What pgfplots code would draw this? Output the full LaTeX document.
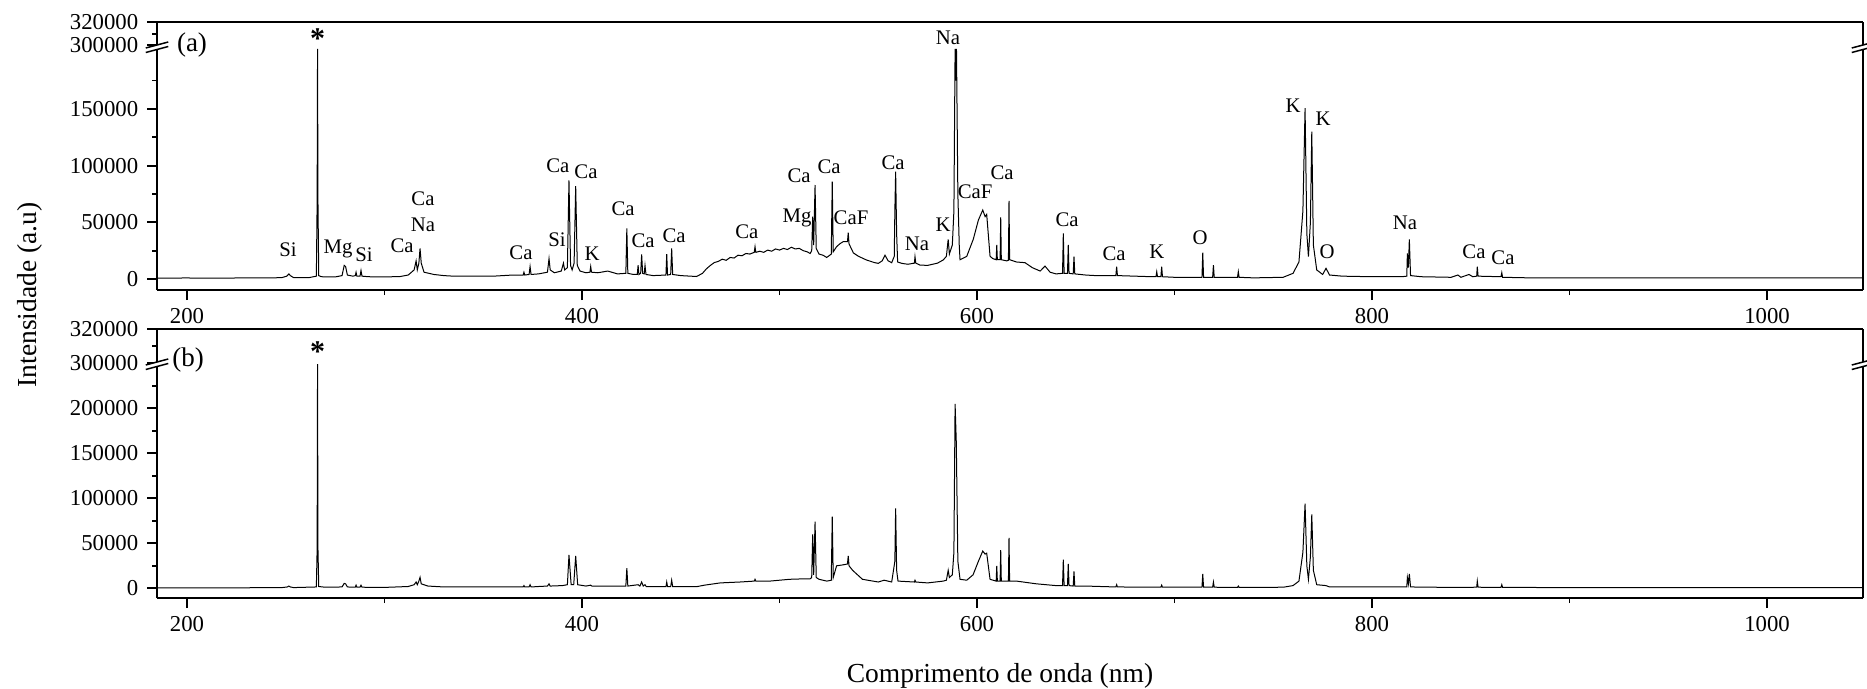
\documentclass[border=0pt]{standalone}
\usepackage{fontspec}
\setmainfont{Liberation Serif}
\usepackage{pgfplots}
\pgfplotsset{compat=1.18}
\usepackage{pgfplotstable}

\pgfplotstableread{
x y
185 800
200 900
215 700
230 1000
240 900
248 1200
250.5 2500
251.6 4500
252.3 3000
254 1200
262 1300
265.5 2500
265.9 70000
266.1 203000
266.3 70000
266.7 3000
268 2000
275 1800
278.5 3000
279.6 12000
280.3 11000
281.2 3500
284 2500
285.2 3000
285.6 6000
286.0 2500
287.6 2500
288.1 7500
288.6 2500
292 2000
300 1800
308 2200
312 3500
315 8000
316.0 16000
316.6 8000
317.4 14000
318.0 27000
318.6 14000
320 6000
325 4000
330 3000
335 2500
345 2500
355 2500
365 3500
370.2 3500
370.6 6000
371.0 3500
373.2 4000
373.7 11000
374.2 4000
378 4500
382.5 6000
383.3 18000
383.9 8000
386 5500
389.5 7000
390.6 14000
391.2 8000
392.6 10000
393.4 87000
394.2 12000
395.0 8000
396.0 14000
396.8 82000
397.6 12000
399 7000
402 5500
404.0 6000
404.4 11000
404.8 6000
408 5500
413 7000
418 4500
422.2 5000
422.7 44700
423.2 5000
426 4000
428.0 4000
428.4 12300
428.8 4000
429.7 5000
430.2 21800
430.7 5000
431.5 4500
431.9 12000
432.4 4000
436 3000
442.5 3500
442.9 22000
443.3 3500
444.9 4000
445.4 27000
445.9 4000
450 3000
455 2500
458 2200
461 5000
463 9000
465 12000
467 14500
469 15500
471 17500
473 16500
475 19000
477 18500
479 21000
481 20500
483 22500
485 22000
487.2 23500
487.6 28500
488.0 23500
490 24500
492 23500
494 25500
496 24500
498 26500
500 25500
502 27000
504 26000
506 28000
508 26500
510 27000
512 25000
514 24000
515.5 22500
516.3 25000
516.8 55000
517.3 30000
518.0 82900
518.6 27000
520 22000
522 21000
523.9 19000
526.2 22000
526.7 85800
527.2 24000
528.9 28500
530.5 31000
532.3 33000
534.4 33000
534.8 40800
535.2 31000
537.4 23000
540 20000
544 16800
548 14500
550 13800
552 16000
553.4 21000
555 16000
556.8 14400
558.1 20000
558.4 60000
558.8 94600
559.3 40000
559.8 15000
561.9 13800
565 13000
568.3 14000
568.6 19700
569.0 14000
571.1 12300
575 12000
580 14000
582.9 16800
584.5 20000
585.4 35000
586.0 22000
587.5 30000
588.3 60000
588.9 203000
589.3 175000
589.6 203000
590.3 75000
591.0 30000
591.4 17000
594.8 20000
598.1 35000
600.7 52000
602.9 60800
604.1 55000
604.9 57000
606.6 20000
608 18000
609.7 17000
610.0 30000
610.3 17000
611.7 17000
612.0 54400
612.3 17000
615 16000
615.9 16500
616.2 68800
616.5 17000
620 15000
624.3 14400
628 10000
632 7000
634.4 11400
637 6000
640 4500
643.3 5000
643.7 40300
644.1 5000
645.8 5000
646.2 30000
646.6 5000
648.7 4500
649.1 19700
649.5 4500
655 3500
660 3000
670.3 3000
670.7 10900
671.1 3000
680 2500
689 2000
690.6 2000
691.0 6400
691.4 2000
693.1 2000
693.5 10900
693.9 2000
700 1500
713.9 1500
714.3 23200
714.7 1500
719.3 1500
719.7 12300
720.1 1500
731.9 1500
732.3 6400
732.7 1500
740 1000
755 1500
760 5000
763 15000
765.0 60000
766.1 150600
767.0 40000
767.8 19700
768.8 50000
769.5 130000
770.3 30000
772 8000
775 4000
776.7 9400
778.5 3500
785 2500
800 2000
815 2000
817.6 2500
817.9 22600
818.4 10000
818.9 35000
819.5 3000
825 2000
840 1500
843.5 3500
845 1500
849.1 4000
851 2000
853.0 2500
853.3 10900
853.7 2500
865.3 2000
865.7 5600
866.1 1500
880 1000
900 1000
950 900
1000 1000
1048.6 900
}\tA

\pgfplotstableread{
x y
185 500
230 600
248 800
250.8 1500
251.6 2500
252.3 1500
254 800
265.5 1500
265.9 45000
266.1 249000
266.3 45000
266.7 2000
270 1200
278.5 1500
279.6 5500
280.3 5000
281.2 1500
285.2 1200
285.6 3500
286.0 1200
287.6 1200
288.1 3500
288.6 1200
300 1000
312 2000
315 4000
316.0 7000
316.6 4000
317.4 8000
318.0 12200
318.6 5000
322 2500
330 1500
360 1500
370.2 1500
370.6 3000
371.0 1500
373.2 1500
373.7 4000
374.2 1500
378 2000
382.5 2500
383.3 5000
383.9 2500
390 3000
392.6 4000
393.4 37000
394.5 4000
395.8 4000
396.8 36000
397.8 4000
402 2500
404.4 3500
405 2500
410 2500
422.2 2500
422.7 22500
423.2 2500
428.4 4000
429.3 2500
430.2 7000
431.0 2500
431.9 4000
432.5 2000
442.5 2000
442.9 7000
443.3 2000
444.9 2000
445.4 9000
445.9 2000
450 2000
458 1800
462 3500
470 6000
480 7000
487.2 8000
487.6 10000
488 8000
495 8000
505 10000
512 10500
515.5 10500
516.3 12000
516.8 60000
517.3 15000
518.0 74000
518.6 12000
520 10000
524 8000
526.2 9000
526.7 79500
527.2 12000
528.9 25000
532 26000
534.4 27000
534.8 36000
535.2 25000
537 20000
542 10000
550 7000
553 9000
556.8 7000
558.4 30000
558.8 88700
559.3 20000
560 8000
568.3 7000
568.6 9000
569 7000
575 6000
582.9 8000
584.5 9000
585.4 20000
586 12000
587.5 15000
588.3 40000
588.9 205000
589.5 163000
590.3 30000
591.4 10000
594.8 9000
598 15000
600.7 30000
602.9 41400
604.1 38000
604.9 39000
606.6 10000
609.7 8000
610.0 25000
610.3 8000
611.7 8000
612.0 42500
612.3 8000
615.9 8000
616.2 56000
616.5 8000
620 8000
630 5000
640 3000
643.3 3000
643.7 31900
644.1 3000
645.8 3000
646.2 27000
646.6 3000
648.7 2500
649.1 18700
649.5 2500
655 2500
670.3 1500
670.7 4000
671.1 1500
693.1 1200
693.5 3500
693.9 1200
700 1200
713.9 1200
714.3 15900
714.7 1200
719.3 1200
719.7 7000
720.1 1200
731.9 1000
732.3 2500
732.7 1000
755 1200
760 3000
763 8000
765.0 40000
766.1 94000
767.0 25000
767.8 10000
768.8 35000
769.5 82000
770.3 20000
772 4000
776.7 3000
778.5 1500
800 1500
817.6 1500
817.9 12000
818.4 5000
818.9 16000
819.5 1500
840 1000
853.0 1200
853.3 8000
853.7 1200
865.3 1000
865.7 4000
866.1 1000
900 800
1048.6 800
}\tB

\pgfplotsset{
  spec/.style={
    scale only axis, width=682.4pt,
    xmin=184.81, xmax=1048.6,
    scaled y ticks=false, scaled x ticks=false,
    axis line style={line width=0.8pt, black},
    tick align=outside, major tick length=4pt, minor tick length=2pt,
    every major tick/.style={black, line width=0.8pt},
    every minor tick/.style={black, line width=0.7pt},
    tick label style={font=\fontsize{9.1}{10}\selectfont},
    clip mode=individual,
    anchor=north west,
  },
  upper/.style={axis x line*=top, axis y line*=box, ytick pos=left, xtick=\empty},
  lower/.style={axis x line*=bottom, axis y line*=box, ytick pos=left,
    xtick={200,400,600,800,1000}, xticklabels={200,400,600,800,1000},
    minor xtick={300,500,700,900}},
}
\tikzset{lab/.style={font=\fontsize{8.3}{9}\selectfont, inner sep=0pt}}

\newcommand{\brk}[2]{%
  \begin{scope}[shift={(#1,#2)}]
    \fill[white] (-4.5pt,-2.2pt) -- (4.5pt,0.2pt) -- (4.5pt,2.0pt) -- (-4.5pt,-0.4pt) -- cycle;
    \draw[line width=0.6pt] (-4.5pt,-2.2pt) -- (4.5pt,0.2pt);
    \draw[line width=0.6pt] (-4.5pt,-0.4pt) -- (4.5pt,2.0pt);
  \end{scope}}

\begin{document}
\begin{tikzpicture}
\path[use as bounding box] (0,0) rectangle (746.8pt,-275.6pt);

% ---- panel (a), upper segment
\begin{axis}[spec, upper, at={(62.8pt,-8.8pt)}, height=10pt,
  ymin=298550, ymax=320000, ytick={300000,320000}, yticklabels={300000,320000},
  minor ytick={310000}]
\node[font=\bfseries\fontsize{12}{12}\selectfont, inner sep=0pt] at (axis cs:266.1,306000) {*};
\end{axis}

% ---- panel (a), lower segment
\begin{axis}[spec, lower, at={(62.8pt,-18.8pt)}, height=97.2pt,
  ymin=-9702, ymax=204624,
  ytick={0,50000,100000,150000}, yticklabels={0,50000,100000,150000},
  minor ytick={25000,75000,125000,175000}]
\addplot[black, line width=0.4pt] table {\tA};
\node[lab] at (axis cs:251.1,25600) {Si};
\node[lab] at (axis cs:276.5,26500) {Mg};
\node[lab] at (axis cs:289.6,21200) {Si};
\node[lab] at (axis cs:308.9,29100) {Ca};
\node[lab] at (axis cs:319.5,70600) {Ca};
\node[lab] at (axis cs:319.5,47600) {Na};
\node[lab] at (axis cs:369.1,22900) {Ca};
\node[lab] at (axis cs:387.3,34400) {Si};
\node[lab] at (axis cs:387.8,99700) {Ca};
\node[lab] at (axis cs:402.0,94400) {Ca};
\node[lab] at (axis cs:405.1,22100) {K};
\node[lab] at (axis cs:420.8,61700) {Ca};
\node[lab] at (axis cs:430.9,33500) {Ca};
\node[lab] at (axis cs:446.6,37900) {Ca};
\node[lab] at (axis cs:483.5,41500) {Ca};
\node[lab] at (axis cs:508.9,53800) {Mg};
\node[lab] at (axis cs:509.9,90800) {Ca};
\node[lab] at (axis cs:525.1,98800) {Ca};
\node[lab] at (axis cs:536.2,53800) {CaF};
\node[lab] at (axis cs:557.5,102300) {Ca};
\node[lab] at (axis cs:569.6,30900) {Na};
\node[lab] at (axis cs:582.8,47600) {K};
\node[lab] at (axis cs:585.3,212600) {Na};
\node[lab] at (axis cs:599.0,76700) {CaF};
\node[lab] at (axis cs:612.7,93500) {Ca};
\node[lab] at (axis cs:645.6,52000) {Ca};
\node[lab] at (axis cs:669.4,22100) {Ca};
\node[lab] at (axis cs:691.1,23800) {K};
\node[lab] at (axis cs:712.9,36200) {O};
\node[lab] at (axis cs:760.0,152600) {K};
\node[lab] at (axis cs:775.2,141100) {K};
\node[lab] at (axis cs:777.2,23800) {O};
\node[lab] at (axis cs:816.7,49400) {Na};
\node[lab] at (axis cs:851.6,23800) {Ca};
\node[lab] at (axis cs:866.3,18500) {Ca};
\end{axis}

% ---- panel (b), upper segment
\begin{axis}[spec, upper, at={(62.8pt,-131.6pt)}, height=14pt,
  ymin=299420, ymax=320000, ytick={300000,320000}, yticklabels={300000,320000},
  minor ytick={310000}]
\node[font=\bfseries\fontsize{12}{12}\selectfont, inner sep=0pt] at (axis cs:266.1,307000) {*};
\end{axis}

% ---- panel (b), lower segment
\begin{axis}[spec, lower, at={(62.8pt,-145.6pt)}, height=93.6pt,
  ymin=-10777, ymax=249200,
  ytick={0,50000,100000,150000,200000}, yticklabels={0,50000,100000,150000,200000},
  minor ytick={25000,75000,125000,175000,225000}]
\addplot[black, line width=0.4pt] table {\tB};
\end{axis}

% axis breaks
\brk{62.8pt}{-18.8pt}
\brk{745.2pt}{-18.8pt}
\brk{62.8pt}{-145.6pt}
\brk{745.2pt}{-145.6pt}

\node[font=\fontsize{10.8}{12}\selectfont] at (76.8pt,-18pt) {(a)};
\node[font=\fontsize{10.8}{12}\selectfont] at (75.2pt,-144pt) {(b)};

\node[rotate=90, font=\fontsize{11}{12}\selectfont] at (12pt,-118pt) {Intensidade (a.u)};
\node[font=\fontsize{11}{12}\selectfont] at (400pt,-270.4pt) {Comprimento de onda (nm)};
\end{tikzpicture}
\end{document}
